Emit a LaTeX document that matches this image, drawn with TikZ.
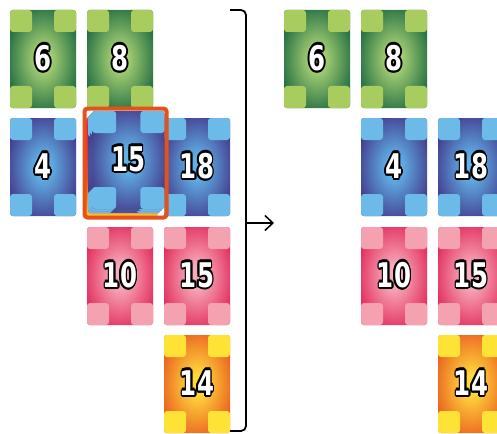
\documentclass[tikz,border=0pt]{standalone}
\usepackage{fontspec}
\newfontfamily\cardfont{DejaVu Sans}
\usepackage[copies]{contour}
\contourlength{2.3pt}
\contournumber{12}
\usetikzlibrary{arrows.meta}

\definecolor{greenlight}{HTML}{A8CC5E}
\definecolor{greendark}{HTML}{10603C}
\definecolor{greenmid}{HTML}{AAD274}
\definecolor{bluelight}{HTML}{6CBAE8}
\definecolor{bluedark}{HTML}{402C80}
\definecolor{bluemid}{HTML}{60B2E8}
\definecolor{pinklight}{HTML}{F4A1B0}
\definecolor{pinkdark}{HTML}{E01C4F}
\definecolor{pinkmid}{HTML}{F7ACBC}
\definecolor{yellowlight}{HTML}{FFE236}
\definecolor{yellowdark}{HTML}{E8501C}
\definecolor{yellowmid}{HTML}{FFD83C}
\definecolor{framered}{HTML}{E8501A}

\pgfdeclareradialshading{greenshade}{\pgfpoint{0bp}{0bp}}{color(0bp)=(greenmid); color(5bp)=(greenmid); color(32bp)=(greendark); color(100bp)=(greendark)}
\pgfdeclareradialshading{blueshade}{\pgfpoint{0bp}{0bp}}{color(0bp)=(bluemid); color(5bp)=(bluemid); color(32bp)=(bluedark); color(100bp)=(bluedark)}
\pgfdeclareradialshading{pinkshade}{\pgfpoint{0bp}{0bp}}{color(0bp)=(pinkmid); color(5bp)=(pinkmid); color(32bp)=(pinkdark); color(100bp)=(pinkdark)}
\pgfdeclareradialshading{yellowshade}{\pgfpoint{0bp}{0bp}}{color(0bp)=(yellowmid); color(5bp)=(yellowmid); color(32bp)=(yellowdark); color(100bp)=(yellowdark)}
\pgfdeclareverticalshading{mixshade}{100bp}{color(0bp)=(yellowlight); color(20bp)=(yellowlight); color(45bp)=(yellowdark); color(70bp)=(pinkdark); color(88bp)=(pinklight); color(100bp)=(pinklight)}

\tikzset{cardnum/.style={font=\cardfont\bfseries\fontsize{34}{34}\selectfont,text=white,inner sep=0pt},
  frame/.style={draw=framered,line width=4,rounded corners=3}}

% #1 width factor, #2 #3 top left, #4 colour, #5 number, #6 name
\newcommand{\card}[6][1]{%
\begin{scope}[shift={(#2,#3)},xscale=#1]
\shade[shading=#4shade,rounded corners=3] (0,0) rectangle (66,98);
\fill[#4light,rounded corners=3] (0,0) rectangle (22,22);
\fill[#4light,rounded corners=3] (44,0) rectangle (66,22);
\fill[#4light,rounded corners=3] (0,76) rectangle (22,98);
\fill[#4light,rounded corners=3] (44,76) rectangle (66,98);
\node[cardnum] (#6) at (33,49) {\scalebox{0.72}[1]{\contour{black}{#5}}};
\end{scope}}

\begin{document}
\begin{tikzpicture}[x=1pt,y=-1pt]
\useasboundingbox[fill=white] (0,0) rectangle (497,433);

% before
\card{10}{10}{green}{6}{l6}
\card{87}{10}{green}{8}{l8}
\card{10}{118}{blue}{4}{l4}
\card{164}{118}{blue}{18}{l18}
\card{87}{227}{pink}{10}{l10}
\card{164}{227}{pink}{15}{l15}
\card{164}{335}{yellow}{14}{l14}

% the pile
\shade[shading=mixshade,rounded corners=3] (86,117) rectangle (158,217);
\card[1.1]{88}{115}{blue}{}{s3}
\card[1.1]{90}{113}{blue}{}{s2}
\card[1.1]{92}{111}{blue}{15}{s1}
\draw[frame] (84.5,108.5) rectangle (166.5,217.5);

% bracket and arrow
\draw[line width=1.8,rounded corners=5] (230,10) -| (246,431) -- (230,431);
\coordinate (brace) at (246,223);
\coordinate (tip) at (274,223);
\draw[line width=1.5,-{Straight Barb[length=8,width=15]}] (brace) -- (tip);

% after
\card{284}{10}{green}{6}{r6}
\card{361}{10}{green}{8}{r8}
\card{361}{118}{blue}{4}{r4}
\card{438}{118}{blue}{18}{r18}
\card{361}{227}{pink}{10}{r10}
\card{438}{227}{pink}{15}{r15}
\card{438}{335}{yellow}{14}{r14}
\end{tikzpicture}
\end{document}
